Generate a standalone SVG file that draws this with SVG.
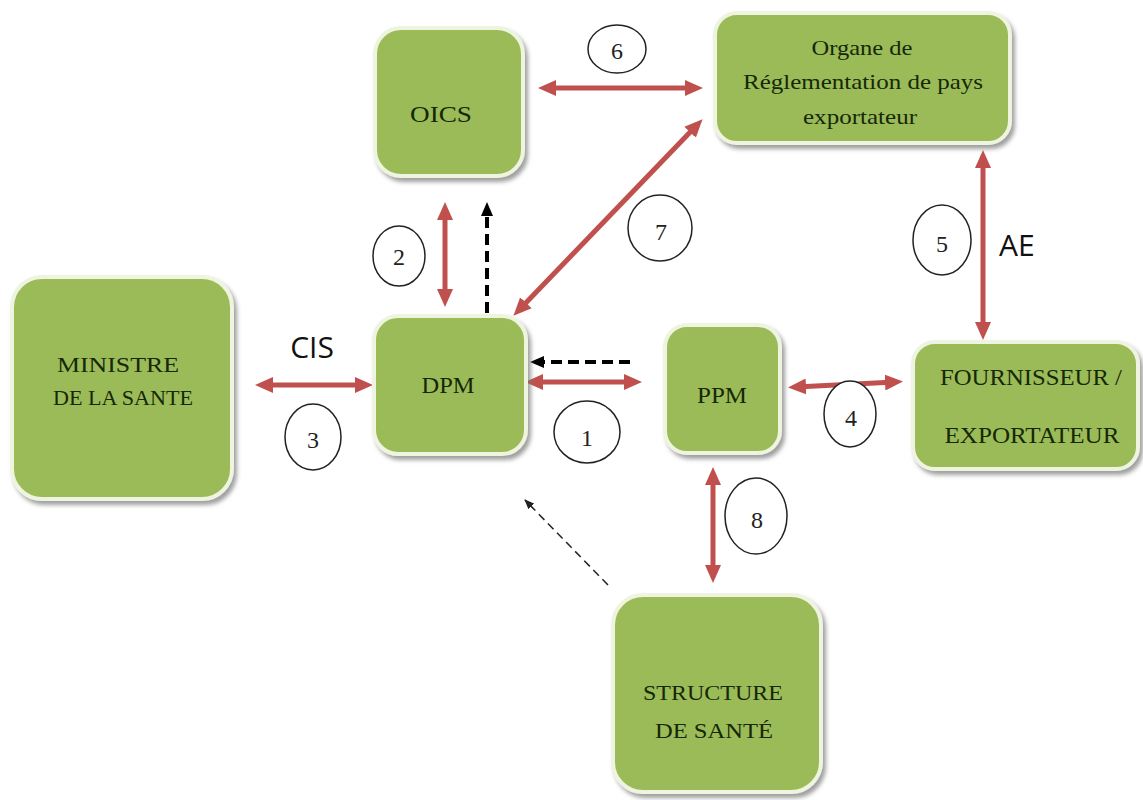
<svg xmlns="http://www.w3.org/2000/svg" width="1143" height="800" viewBox="0 0 1143 800">
<style>
.box{fill:#9bbb59;stroke:#eef4e0;stroke-width:4;filter:url(#sh)}
.lbl{font-family:"Liberation Serif",serif;fill:#162807;text-anchor:middle}
.num{fill:#fff;stroke:#222;stroke-width:1.5}
.numt{font-family:"Liberation Serif",serif;font-size:24px;fill:#222;text-anchor:middle}
.red{stroke:#c0504d;stroke-width:5;fill:none;marker-start:url(#ra);marker-end:url(#ra)}
.dash{stroke:#000;stroke-width:4;fill:none;stroke-dasharray:11,6;marker-end:url(#ba)}
.thin{stroke:#222;stroke-width:1.5;fill:none;stroke-dasharray:8,5;marker-end:url(#ta)}
.side{font-family:"Open Sans",sans-serif;font-size:30px;fill:#111}
</style>
<defs>
<filter id="sh" x="-10%" y="-10%" width="125%" height="125%">
<feDropShadow dx="3" dy="4" stdDeviation="2" flood-color="#777" flood-opacity="0.7"/>
</filter>
<marker id="ra" markerUnits="userSpaceOnUse" markerWidth="18" markerHeight="16" refX="10" refY="8" orient="auto-start-reverse">
<path d="M0,0 L18,8 L0,16 z" fill="#c0504d"/>
</marker>
<marker id="ba" markerUnits="userSpaceOnUse" markerWidth="14" markerHeight="12" refX="6" refY="6" orient="auto">
<path d="M0,0 L14,6 L0,12 z" fill="#000"/>
</marker>
<marker id="ta" markerUnits="userSpaceOnUse" markerWidth="10" markerHeight="8" refX="9" refY="4" orient="auto">
<path d="M0,0 L10,4 L0,8 z" fill="#222"/>
</marker>
</defs>
<rect width="1143" height="800" fill="#fff"/>

<g id="connectors">
<line class="red" x1="546" y1="88" x2="695" y2="88"/>
<line class="red" x1="697" y1="125" x2="519" y2="310"/>
<line class="red" x1="445" y1="210" x2="445" y2="299"/>
<line class="dash" x1="487" y1="313" x2="487" y2="210"/>
<line class="red" x1="263" y1="385" x2="365" y2="385"/>
<line class="red" x1="533" y1="382" x2="634" y2="382"/>
<line class="dash" x1="630" y1="362" x2="538" y2="362"/>
<line class="red" x1="796" y1="387" x2="895" y2="382"/>
<line class="red" x1="983" y1="158" x2="983" y2="332"/>
<line class="red" x1="713" y1="475" x2="713" y2="575"/>
<line class="thin" x1="608" y1="585" x2="525" y2="500"/>
</g>

<g id="node-oics">
<rect class="box" x="375" y="28" width="148" height="148" rx="26"/>
<text class="lbl" x="441" y="122" font-size="23" textLength="62" lengthAdjust="spacingAndGlyphs">OICS</text>
</g>

<g id="node-organe">
<rect class="box" x="715" y="13" width="295" height="130" rx="22"/>
<text class="lbl" x="862" y="55" font-size="22" textLength="101" lengthAdjust="spacingAndGlyphs">Organe de</text>
<text class="lbl" x="863" y="89" font-size="22" textLength="240" lengthAdjust="spacingAndGlyphs">Réglementation de pays</text>
<text class="lbl" x="860" y="124" font-size="22" textLength="114" lengthAdjust="spacingAndGlyphs">exportateur</text>
</g>

<g id="node-ministre">
<rect class="box" x="12" y="277" width="220" height="222" rx="30"/>
<text class="lbl" x="118" y="372" font-size="21" textLength="122" lengthAdjust="spacingAndGlyphs">MINISTRE</text>
<text class="lbl" x="123" y="405" font-size="21" textLength="140" lengthAdjust="spacingAndGlyphs">DE LA SANTE</text>
</g>

<g id="node-dpm">
<rect class="box" x="374" y="316" width="152" height="138" rx="24"/>
<text class="lbl" x="448" y="393" font-size="24" textLength="53" lengthAdjust="spacingAndGlyphs">DPM</text>
</g>

<g id="node-ppm">
<rect class="box" x="665" y="325" width="115" height="128" rx="22"/>
<text class="lbl" x="722" y="403" font-size="23" textLength="50" lengthAdjust="spacingAndGlyphs">PPM</text>
</g>

<g id="node-fournisseur">
<rect class="box" x="913" y="342" width="225" height="127" rx="22"/>
<text class="lbl" x="1031" y="385" font-size="23" textLength="182" lengthAdjust="spacingAndGlyphs">FOURNISSEUR /</text>
<text class="lbl" x="1032" y="443" font-size="23" textLength="175" lengthAdjust="spacingAndGlyphs">EXPORTATEUR</text>
</g>

<g id="node-structure">
<rect class="box" x="613" y="595" width="208" height="197" rx="30"/>
<text class="lbl" x="713" y="700" font-size="22" textLength="140" lengthAdjust="spacingAndGlyphs">STRUCTURE</text>
<text class="lbl" x="714" y="738" font-size="22" textLength="118" lengthAdjust="spacingAndGlyphs">DE SANTÉ</text>
</g>

<g id="badges">
<ellipse class="num" cx="587" cy="432" rx="33" ry="31"/><text class="numt" x="587" y="446">1</text>
<ellipse class="num" cx="399" cy="256" rx="26" ry="30"/><text class="numt" x="399" y="265">2</text>
<ellipse class="num" cx="313" cy="437" rx="28" ry="33"/><text class="numt" x="313" y="448">3</text>
<ellipse class="num" cx="850" cy="414" rx="26" ry="33"/><text class="numt" x="851" y="426">4</text>
<ellipse class="num" cx="942" cy="240" rx="29" ry="35"/><text class="numt" x="942" y="252">5</text>
<ellipse class="num" cx="617" cy="49" rx="29" ry="24"/><text class="numt" x="617" y="59">6</text>
<ellipse class="num" cx="660" cy="228" rx="32" ry="33"/><text class="numt" x="661" y="240">7</text>
<ellipse class="num" cx="756" cy="516" rx="31" ry="38"/><text class="numt" x="757" y="528">8</text>
</g>

<g id="side-labels">
<text class="side" x="312" y="358" text-anchor="middle">CIS</text>
<text class="side" x="999" y="256">AE</text>
</g>
</svg>
